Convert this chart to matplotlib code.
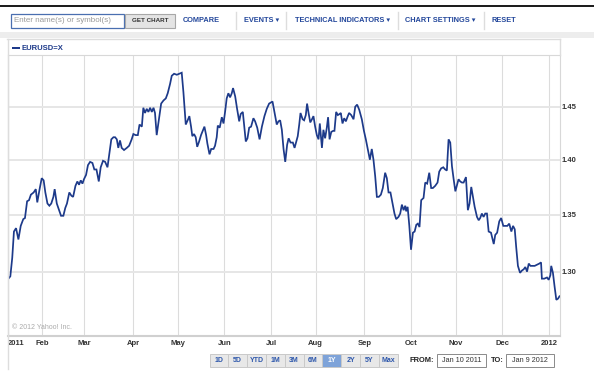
import numpy as np
import pandas as pd
import matplotlib
matplotlib.use("Agg")
import matplotlib.pyplot as plt
from matplotlib.patches import Rectangle
from matplotlib.lines import Line2D
from matplotlib.ticker import FixedLocator, NullLocator, FuncFormatter

W, H = 594, 388

# trading-day offset from Jan 10 2011 and EUR/USD close
day = [0.2, 1.1, 2.0, 2.8, 3.8, 4.9, 6.0, 7.2, 8.0, 9.0, 9.9, 10.8, 12.1, 13.1, 13.8,
       14.9, 15.9, 16.8, 17.6, 18.6, 19.5, 20.4, 21.4, 22.0, 23.0, 24.1, 25.0, 26.1,
       27.0, 27.8, 28.9, 29.9, 30.7, 31.8, 32.7, 33.5, 34.3, 35.1, 35.8, 36.8, 37.7,
       38.7, 39.8, 40.7, 41.7, 42.8, 43.7, 44.8, 45.8, 46.9, 47.8, 48.7, 49.7, 50.5,
       51.3, 52.0, 52.8, 53.6, 54.7, 56.0, 57.1, 58.3, 59.1, 60.2, 61.2, 62.0, 63.1,
       63.8, 64.6, 65.4, 66.2, 67.0, 67.8, 68.6, 69.3, 70.1, 71.2, 72.2, 73.3, 74.4,
       75.3, 76.4, 77.2, 78.3, 79.6, 80.7, 81.9, 82.7, 83.8, 84.7, 85.5, 86.3, 86.9,
       87.7, 88.5, 89.2, 90.1, 91.0, 91.8, 92.6, 93.4, 94.0, 95.0, 95.8, 96.9, 97.6,
       98.4, 98.9, 99.8, 100.8, 101.6, 102.4,
       103.1, 103.9, 104.7, 105.5, 106.1, 107.1, 108.0, 109.0, 109.7, 110.7, 111.3,
       112.1, 112.9, 113.7, 114.6, 115.7, 116.5, 117.5, 118.6, 119.7, 120.9, 122.0,
       123.1, 124.7, 125.6, 126.7, 127.5, 128.3, 129.1, 129.9, 130.7, 131.6, 132.3,
       133.2, 134.3, 135.1, 135.9, 136.6, 137.3, 137.9, 138.9, 139.6, 140.4, 141.0,
       141.7, 142.5, 143.3, 144.0, 144.8, 145.6, 146.4, 147.0, 148.0, 148.7, 149.5,
       150.3, 150.9, 151.6, 152.4, 153.3, 153.9, 154.7,
       155.5, 156.3, 156.9, 157.7, 158.5, 159.3, 160.0, 160.8, 161.8, 162.9, 163.7,
       164.6, 165.6, 166.8, 167.8, 168.7, 169.7, 170.6, 171.5, 172.3, 173.1, 173.9,
       174.8, 175.8, 176.7, 177.8, 178.6, 179.4, 180.3, 181.3, 182.2, 183.0, 184.1,
       184.9, 185.7, 186.5, 187.3, 187.7, 188.4, 189.2, 190.0, 190.9, 191.7, 192.5,
       193.2, 194.0, 194.8, 195.9, 196.7, 197.6, 198.6, 199.5, 200.3, 201.4, 202.5,
       203.3, 204.2, 205.2, 206.1,
       206.9, 207.7, 208.5, 209.3, 210.1, 210.9, 211.6, 212.4, 213.2, 214.0, 214.8,
       215.9, 216.8, 217.6, 218.4, 219.2, 220.0, 221.1, 221.9, 222.6, 223.4, 224.2,
       225.0, 225.8, 226.6, 227.7, 228.5, 229.0, 229.7, 230.6, 231.6, 232.5, 233.5,
       234.4, 235.4, 236.3, 237.3, 238.1, 238.9, 239.6, 240.4, 241.4, 242.3, 243.1,
       243.9, 244.7, 245.5, 246.3, 247.3, 248.3, 249.4, 250.5, 251.3, 251.7, 252.8,
       254.1, 254.9, 255.7, 256.1, 256.9, 257.7, 258.5, 259.3, 260.0]
rate = [1.294, 1.296, 1.312, 1.335, 1.338, 1.328, 1.340, 1.346, 1.347, 1.362, 1.363,
        1.368, 1.370, 1.373, 1.361, 1.373, 1.383, 1.381, 1.370, 1.360, 1.358, 1.360,
        1.366, 1.373, 1.360, 1.354, 1.349, 1.349, 1.356, 1.360, 1.370, 1.367, 1.366,
        1.376, 1.380, 1.377, 1.381, 1.378, 1.382, 1.386, 1.395, 1.398, 1.397, 1.391,
        1.391, 1.380, 1.393, 1.399, 1.398, 1.393, 1.406, 1.419, 1.421, 1.421,
        1.419, 1.411, 1.418, 1.411, 1.409, 1.411, 1.413, 1.419, 1.424, 1.423, 1.423,
        1.433, 1.431, 1.449, 1.444, 1.448, 1.445, 1.449, 1.445, 1.449, 1.444, 1.423,
        1.439, 1.453, 1.456, 1.458, 1.463, 1.472, 1.480, 1.482, 1.481, 1.482, 1.483,
        1.464, 1.433, 1.437, 1.441, 1.431, 1.422, 1.424, 1.421, 1.412, 1.417, 1.423,
        1.427, 1.431, 1.423, 1.415, 1.405, 1.410, 1.410, 1.413, 1.421, 1.432, 1.430,
        1.440, 1.434, 1.446,
        1.458, 1.463, 1.459, 1.463, 1.468, 1.460, 1.448, 1.436, 1.443, 1.445, 1.433,
        1.417, 1.420, 1.430, 1.431, 1.439, 1.436, 1.430, 1.419, 1.431, 1.441, 1.448,
        1.453, 1.455, 1.445, 1.433, 1.436, 1.437, 1.428, 1.410, 1.398, 1.414, 1.420,
        1.416, 1.416, 1.411, 1.417, 1.422, 1.433, 1.444, 1.438, 1.437, 1.442, 1.453,
        1.444, 1.435, 1.438, 1.441, 1.431, 1.423, 1.419, 1.434, 1.411, 1.428, 1.420,
        1.430, 1.440, 1.419, 1.426, 1.427, 1.427, 1.445,
        1.442, 1.443, 1.444, 1.434, 1.439, 1.436, 1.440, 1.444, 1.442, 1.438, 1.450,
        1.452, 1.447, 1.438, 1.427, 1.419, 1.409, 1.400, 1.410, 1.400, 1.385, 1.366,
        1.366, 1.368, 1.374, 1.388, 1.383, 1.370, 1.370, 1.360, 1.351, 1.346, 1.348,
        1.351, 1.359, 1.354, 1.358, 1.353, 1.357, 1.340, 1.319, 1.334, 1.335, 1.341,
        1.342, 1.339, 1.363, 1.365, 1.379, 1.378, 1.388, 1.374, 1.374, 1.376, 1.379,
        1.389, 1.392, 1.393, 1.391,
        1.390, 1.419, 1.416, 1.394, 1.382, 1.371, 1.376, 1.382, 1.380, 1.379, 1.379,
        1.384, 1.354, 1.360, 1.375, 1.366, 1.357, 1.348, 1.345, 1.347, 1.351, 1.348,
        1.351, 1.351, 1.335, 1.334, 1.328, 1.324, 1.332, 1.334, 1.344, 1.347, 1.340,
        1.340, 1.340, 1.342, 1.335, 1.340, 1.337, 1.321, 1.305, 1.299, 1.301, 1.302,
        1.304, 1.300, 1.307, 1.305, 1.305, 1.305, 1.306, 1.307, 1.308, 1.294, 1.294,
        1.295, 1.293, 1.297, 1.305, 1.299, 1.287, 1.276, 1.277, 1.279]

start, end = "2011-01-10", "2012-01-09"
month_labels = ["2011", "Feb", "Mar", "Apr", "May", "Jun", "Jul", "Aug", "Sep",
                "Oct", "Nov", "Dec", "2012"]
y_ticks = [1.30, 1.35, 1.40, 1.45]
ranges = ["1D", "5D", "YTD", "1M", "3M", "6M", "1Y", "2Y", "5Y", "Max"]

days = pd.bdate_range(start, end)
idx = pd.Series(np.arange(len(days)), index=days)
month_pos = idx.groupby([days.year, days.month]).first().values

navy = "#1d3a8a"
link = "#23479b"
plt.rcParams["font.family"] = ["Liberation Sans", "DejaVu Sans"]

fig = plt.figure(figsize=(W / 100, H / 100), dpi=100)
fig.patch.set_facecolor("white")


def fx(x):
    return x / W


def fy(y):
    return 1 - y / H


def box(x0, y0, x1, y1, **kw):
    fig.patches.append(Rectangle((fx(x0), fy(y1)), (x1 - x0) / W, (y1 - y0) / H,
                                 transform=fig.transFigure, **kw))


def line(xs, ys, color="#dddddd", lw=1.0):
    fig.add_artist(Line2D([fx(x) for x in xs], [fy(y) for y in ys],
                          transform=fig.transFigure, color=color, lw=lw))


def label(x, y, s, **kw):
    kw.setdefault("va", "center")
    fig.text(fx(x), fy(y), s, **kw)


# toolbar
box(0, 4.8, W, 6.8, facecolor="#1e1e1e", edgecolor="none")
box(11, 13.5, 124, 28, facecolor="white", edgecolor="#4a6fb0", lw=0.9)
label(14, 21, "Enter name(s) or symbol(s)", fontsize=5.8, color="#9a9a9a")
box(125, 14, 175, 28, facecolor="#e4e4e4", edgecolor="#a8a8a8", lw=0.8)
label(150, 21, "GET CHART", fontsize=4.5, weight="bold", color="#333333", ha="center")
label(183, 21, "COMPARE", fontsize=5.3, weight="bold", color=link)
for sx in [236, 286, 398, 484]:
    line([sx, sx], [12, 29])
label(244, 21, "EVENTS \u25be", fontsize=5.3, weight="bold", color=link)
label(295, 21, "TECHNICAL INDICATORS \u25be", fontsize=5.3, weight="bold", color=link)
label(405, 21, "CHART SETTINGS \u25be", fontsize=5.3, weight="bold", color=link)
label(492, 21, "RESET", fontsize=5.3, weight="bold", color=link)
box(0, 32, W, 37.5, facecolor="#ededed", edgecolor="none")

# chart frame
line([7.5, 7.5], [38.5, 369])
line([7, 559.5], [39, 39])
line([559.5, 559.5], [39, 55])
box(12, 46.8, 19.5, 49.3, facecolor=navy, edgecolor="none")
label(21, 48.2, "EURUSD=X", fontsize=5.5, weight="bold", color=navy)

ax = fig.add_axes([fx(8), fy(336), (559.5 - 8) / W, (336 - 55) / H])
ax.plot(day, rate, color=navy, lw=1.25, solid_joinstyle="miter")
ax.set_yscale("log")
ax.set_ylim(1.2458, 1.5005)
ax.set_xlim(0, len(days) - 1)
ax.yaxis.set_major_locator(FixedLocator(y_ticks))
ax.yaxis.set_minor_locator(NullLocator())
ax.yaxis.set_major_formatter(FuncFormatter(lambda v, p: f"{v:.2f}"))
ax.yaxis.tick_right()
ax.set_xticks(month_pos)
ax.set_xticklabels(month_labels)
ax.get_xticklabels()[0].set_ha("left")
ax.tick_params(axis="both", length=0, labelsize=5.5, labelcolor="#333333")
ax.tick_params(axis="y", pad=1.5)
ax.tick_params(axis="x", pad=3.2)
for t in ax.get_xticklabels() + ax.get_yticklabels():
    t.set_fontweight("bold")
ax.xaxis.grid(True, color="#dcdcdc", lw=0.8)
ax.yaxis.grid(True, color="#e6e6e6", lw=1.4)
ax.set_axisbelow(True)
for side in ["top", "left", "right"]:
    ax.spines[side].set_color("#d8d8d8")
    ax.spines[side].set_linewidth(0.8)
ax.spines["bottom"].set_color("#d0d0d0")
ax.spines["bottom"].set_linewidth(1.5)

ax.text(0.008, 0.025, "\u00a9 2012 Yahoo! Inc.", transform=ax.transAxes,
        fontsize=5, color="#ababab")

# range buttons and date boxes
bw = 18.82
for i, r in enumerate(ranges):
    x0 = 209.5 + i * bw
    on = r == "1Y"
    box(x0, 353.5, x0 + bw, 367, facecolor="#7ea3d9" if on else "#e8e8e8",
        edgecolor="#c9c9c9", lw=0.7)
    label(x0 + bw / 2, 360.5, r, fontsize=5, weight="bold", ha="center",
          color="white" if on else "#2c56ab")
label(410, 360.5, "FROM:", fontsize=5.4, weight="bold", color="#222222")
box(437.5, 353.5, 485.6, 367, facecolor="white", edgecolor="#8a8a8a", lw=0.7)
label(461.5, 360.5, "Jan 10 2011", fontsize=5.2, color="#333333", ha="center")
label(490.5, 360.5, "TO:", fontsize=5.4, weight="bold", color="#222222")
box(505.7, 353.5, 553.8, 367, facecolor="white", edgecolor="#8a8a8a", lw=0.7)
label(529.8, 360.5, "Jan 9 2012", fontsize=5.2, color="#333333", ha="center")

fig.savefig("out.png", dpi=100)
